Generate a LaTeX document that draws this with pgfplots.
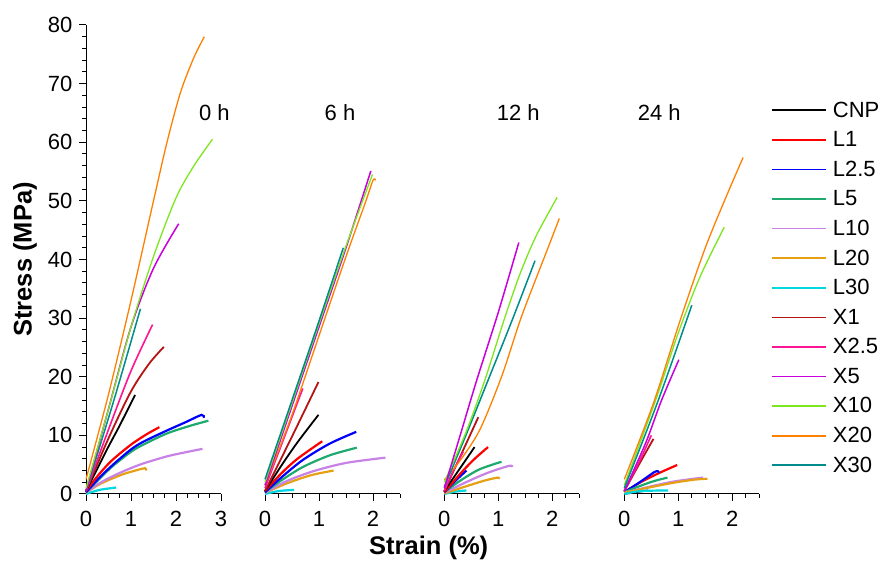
\documentclass[border=0pt]{standalone}
\usepackage{pgfplots}
\pgfplotsset{compat=1.18}
\usepackage{fontspec}
\setmainfont{Liberation Sans}
\definecolor{cL1}{RGB}{255,0,0}
\definecolor{cL25}{RGB}{0,0,255}
\definecolor{cL5}{RGB}{30,170,110}
\definecolor{cL10}{RGB}{200,130,230}
\definecolor{cL20}{RGB}{230,160,20}
\definecolor{cL30}{RGB}{0,215,225}
\definecolor{cX1}{RGB}{180,20,20}
\definecolor{cX25}{RGB}{255,20,147}
\definecolor{cX5}{RGB}{200,0,220}
\definecolor{cX10}{RGB}{125,230,30}
\definecolor{cX20}{RGB}{255,128,0}
\definecolor{cX30}{RGB}{0,140,140}
\newcommand{\tfont}{\fontsize{22}{26}\selectfont}
\newcommand{\bfont}{\fontsize{25.5}{30}\selectfont\bfseries}
\pgfplotsset{
  panel/.style={scale only axis, width=135pt, height=469pt, ymin=0, ymax=80, clip=false,
    axis x line*=bottom, tick align=outside, major tick length=7pt, minor tick length=4pt,
    tick style={black, line width=1pt}, axis line style={black, line width=1pt},
    tick label style={font=\tfont}, /pgf/number format/assume math mode=true, no markers,
    xticklabel style={yshift=-7pt}, yticklabel style={xshift=-3pt}},
  sCNP/.style={black, line width=1.8pt, smooth},
  sL1/.style={cL1, line width=2.2pt, smooth},
  sL25/.style={cL25, line width=2.2pt, smooth},
  sL5/.style={cL5, line width=2.2pt, smooth},
  sL10/.style={cL10, line width=2.2pt, smooth},
  sL20/.style={cL20, line width=2.2pt, smooth},
  sL30/.style={cL30, line width=2.2pt, smooth},
  sX1/.style={cX1, line width=1.8pt, smooth},
  sX25/.style={cX25, line width=1.6pt, smooth},
  sX5/.style={cX5, line width=1.5pt, smooth},
  sX10/.style={cX10, line width=1.3pt, smooth},
  sX20/.style={cX20, line width=1.3pt, smooth},
  sX30/.style={cX30, line width=1.5pt, smooth},
}
\begin{document}
\begin{tikzpicture}
\path[use as bounding box] (0,0) rectangle (883pt,561pt);
% ---------------- 0 h
\begin{axis}[panel, at={(86pt,67pt)}, anchor=south west, xmin=0, xmax=3,
  axis y line*=left, xtick={0,1,2,3}, minor xtick={0.25,0.5,0.75,1.25,1.5,1.75,2.25,2.5,2.75},
  ytick={0,10,...,80}, minor ytick={2,4,...,78},
  ylabel={Stress (MPa)}, ylabel style={font=\bfont, at={(axis description cs:-0.452,0.5)}, anchor=center}]
\addplot[sL30] coordinates {(0,0) (0.3,0.7) (0.67,1.1)};
\addplot[sL20] coordinates {(0,0.2) (0.31,1.7) (0.76,3.2) (1.05,3.9) (1.31,4.4) (1.33,4.0)};
\addplot[sL10] coordinates {(0,0.2) (0.25,1.6) (0.53,2.8) (0.9,4.1) (1.27,5.2) (1.79,6.4) (2.2,7.1) (2.59,7.7)};
\addplot[sL5] coordinates {(0,0.3) (0.3,2.6) (0.6,4.8) (1.0,7.2) (1.27,8.4) (1.79,10.3) (2.3,11.6) (2.72,12.5)};
\addplot[sL25] coordinates {(0,0.3) (0.3,2.8) (0.6,5.0) (1.0,7.6) (1.27,8.9) (1.79,10.8) (2.2,12.2) (2.57,13.5) (2.62,13.0)};
\addplot[sL1] coordinates {(0,0.5) (0.25,3) (0.53,5.4) (0.8,7.2) (1.05,8.7) (1.35,10.2) (1.63,11.4)};
\addplot[sCNP] coordinates {(0,0.5) (0.25,4.3) (0.5,8.1) (0.75,11.7) (1.09,16.9)};
\addplot[sX1] coordinates {(0,0.5) (0.5,9.5) (1.0,17.5) (1.4,22.2) (1.73,25.1)};
\addplot[sX25] coordinates {(0,0.5) (0.5,11) (1.0,21) (1.48,28.9)};
\addplot[sX30] coordinates {(0,0.5) (0.62,16) (1.21,31.6)};
\addplot[sX5] coordinates {(0,0.5) (0.5,14.5) (1.0,28.5) (1.5,38.5) (2.06,46.1)};
\addplot[sX10] coordinates {(0,1) (0.5,14.5) (1.0,28.5) (1.5,40.5) (2.0,50.5) (2.4,56) (2.81,60.5)};
\addplot[sX20] coordinates {(0,2.5) (0.5,17) (1.0,33) (1.5,50) (1.8,60) (2.1,68.5) (2.4,74.5) (2.63,78)};
\node[font=\tfont] at (axis cs:2.851,65) {0 h};
\end{axis}
% ---------------- 6 h
\begin{axis}[panel, at={(265pt,67pt)}, anchor=south west, xmin=0, xmax=2.5,
  axis y line=none, xtick={0,1,2}, minor xtick={0.25,0.5,0.75,1.25,1.5,1.75,2.25,2.5}]
\addplot[sL30] coordinates {(0,0) (0.25,0.5) (0.54,0.7)};
\addplot[sL20] coordinates {(0,0.2) (0.4,1.8) (0.85,3.2) (1.27,4.0)};
\addplot[sL10] coordinates {(0,0.2) (0.4,2.2) (0.9,3.9) (1.5,5.3) (2.23,6.2)};
\addplot[sL5] coordinates {(0,0.3) (0.3,2.3) (0.7,4.6) (1.2,6.6) (1.7,7.9)};
\addplot[sL25] coordinates {(0,0.3) (0.3,2.8) (0.7,5.8) (1.2,8.6) (1.69,10.6)};
\addplot[sL1] coordinates {(0,0.5) (0.3,3.5) (0.6,6.0) (1.06,9.0)};
\addplot[sCNP] coordinates {(0,0.5) (0.3,4.8) (0.6,8.8) (0.99,13.5)};
\addplot[sX1] coordinates {(0,0.5) (0.5,9.8) (0.99,19.1)};
\addplot[sX25] coordinates {(0,1) (0.35,9.5) (0.7,18)};
\addplot[sX20] coordinates {(0,1.5) (0.5,13.5) (1.0,27) (1.5,40.5) (1.85,49.5) (2.0,53.5) (2.05,53.5)};
\addplot[sX5] coordinates {(0,1.5) (0.5,15) (1.0,28.5) (1.5,42) (1.96,55.1)};
\addplot[sX10] coordinates {(0,2) (0.5,15.5) (1.0,29) (1.5,42.3) (1.99,54.5)};
\addplot[sX30] coordinates {(0,2.5) (0.5,16) (1.0,29.5) (1.45,42)};
\node[font=\tfont] at (axis cs:1.389,65) {6 h};
\end{axis}
% ---------------- 12 h
\begin{axis}[panel, at={(444.3pt,67pt)}, anchor=south west, xmin=0, xmax=2.5,
  axis y line=none, xtick={0,1,2}, minor xtick={0.25,0.5,0.75,1.25,1.5,1.75,2.25,2.5}]
\addplot[sL30] coordinates {(0,0) (0.2,0.4) (0.41,0.6)};
\addplot[sL20] coordinates {(0,0.1) (0.4,1.3) (0.75,2.3) (0.99,2.8) (1.0,2.6)};
\addplot[sL10] coordinates {(0,0.2) (0.4,2.0) (0.8,3.6) (1.2,4.8) (1.26,4.6)};
\addplot[sL5] coordinates {(0,0.3) (0.3,2.3) (0.65,4.2) (1.06,5.5)};
\addplot[sL25] coordinates {(0,0.3) (0.2,2.2) (0.41,4.0)};
\addplot[sL1] coordinates {(0,0.3) (0.3,3.5) (0.55,5.9) (0.81,8.0)};
\addplot[sCNP] coordinates {(0,0.5) (0.3,4.5) (0.56,8.0)};
\addplot[sX1] coordinates {(0,0.5) (0.3,6.5) (0.63,13.1)};
\addplot[sX25] coordinates {(0,0.5) (0.17,4) (0.35,7.2)};
\addplot[sX20] coordinates {(0,2.4) (0.3,5.8) (0.66,11) (1.06,20) (1.4,29.5) (1.65,35.6) (1.9,41.5) (2.13,47)};
\addplot[sX30] coordinates {(0,1.2) (0.4,10) (0.81,19.4) (1.25,29.5) (1.68,39.8)};
\addplot[sX10] coordinates {(0,2) (0.4,10.5) (0.75,19.4) (1.1,29.5) (1.4,37.5) (1.7,44) (2.09,50.6)};
\addplot[sX5] coordinates {(0,1) (0.3,10.2) (0.6,19.4) (1.0,31) (1.38,42.9)};
\node[font=\tfont] at (axis cs:1.370,65) {12 h};
\end{axis}
% ---------------- 24 h
\begin{axis}[panel, at={(624.3pt,67pt)}, anchor=south west, xmin=0, xmax=2.5,
  axis y line=none, xtick={0,1,2}, minor xtick={0.25,0.5,0.75,1.25,1.5,1.75,2.25,2.5},
  legend cell align=left,
  legend image code/.code={\draw[#1, line width=1.7pt] (0pt,0pt) -- (54pt,0pt);},
  legend style={at={(axis description cs:1.0867,0.8365)}, anchor=north west, draw=none, fill=none,
    inner sep=0pt, row sep=12.8pt, font=\tfont, nodes={inner sep=0pt},
    /tikz/every odd column/.append style={column sep=6pt}}]
\addplot[sCNP] coordinates {(0,0) (0.2,0.3) (0.44,0.6)};
\addlegendentry{CNP}
\addplot[sL1] coordinates {(0,0.3) (0.3,2.0) (0.65,3.6) (0.98,4.95)};
\addlegendentry{L1}
\addplot[sL25] coordinates {(0,0.3) (0.3,2.1) (0.55,3.7) (0.62,3.9) (0.64,3.6)};
\addlegendentry{L2.5}
\addplot[sL5] coordinates {(0,0.3) (0.3,1.4) (0.55,2.2) (0.8,2.8)};
\addlegendentry{L5}
\addplot[sL10] coordinates {(0,0.2) (0.4,1.1) (0.9,2.1) (1.46,2.8)};
\addlegendentry{L10}
\addplot[sL20] coordinates {(0,0.2) (0.4,1.0) (0.9,1.9) (1.3,2.45) (1.54,2.6)};
\addlegendentry{L20}
\addplot[sL30] coordinates {(0,0) (0.3,0.5) (0.81,0.6)};
\addlegendentry{L30}
\addplot[sX1] coordinates {(0,0.5) (0.3,5.5) (0.54,9.4)};
\addlegendentry{X1}
\addplot[sX25] coordinates {(0,0.5) (0.25,5) (0.5,10)};
\addlegendentry{X2.5}
\addplot[sX5] coordinates {(0,0.5) (0.4,8.8) (0.69,16) (1.01,22.9)};
\addlegendentry{X5}
\addplot[sX10] coordinates {(0,1.5) (0.58,16) (1.0,27.5) (1.4,37) (1.85,45.5)};
\addlegendentry{X10}
\addplot[sX20] coordinates {(0,2.5) (0.54,15.5) (1.03,29.5) (1.5,42) (1.9,51) (2.2,57.4)};
\addlegendentry{X20}
\addplot[sX30] coordinates {(0,1) (0.63,16) (1.25,32.2)};
\addlegendentry{X30}
\node[font=\tfont] at (axis cs:0.648,65) {24 h};
\end{axis}
\node[font=\bfont, anchor=base] at (428.7pt,6pt) {Strain (\%)};
\end{tikzpicture}
\end{document}
